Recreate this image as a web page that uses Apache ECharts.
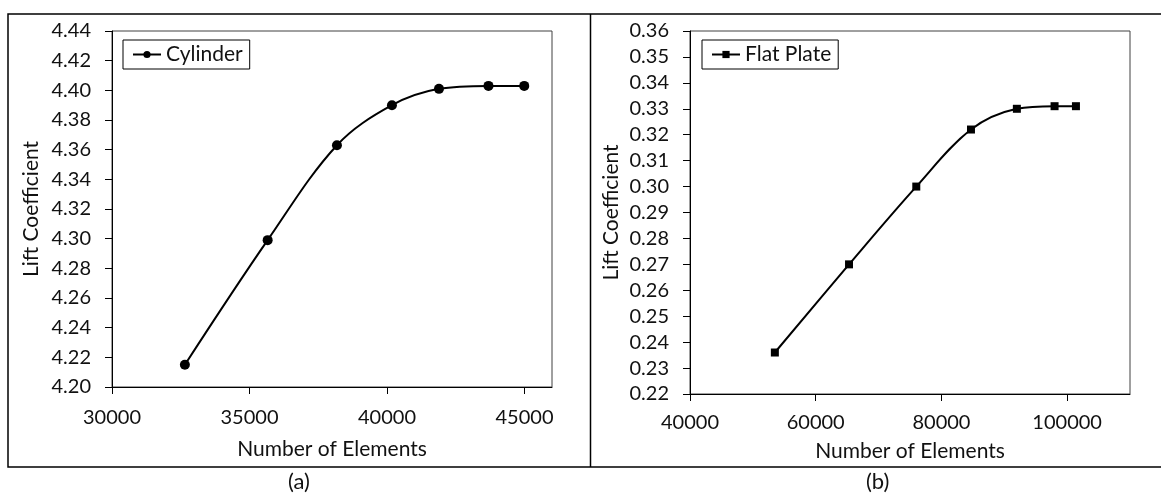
<!DOCTYPE html>
<html>
<head>
<meta charset="utf-8">
<script src="https://cdn.jsdelivr.net/npm/echarts@6/dist/echarts.min.js"></script>
<style>
  html, body { margin: 0; padding: 0; background: #fff; }
  #chart { width: 1161px; height: 495px; }
</style>
</head>
<body>
<div id="chart"></div>
<script>
// (a) cylinder mesh study
const cylElements = [32650, 35660, 38180, 40180, 41890, 43690, 44990];
const cylLift = [4.215, 4.299, 4.363, 4.390, 4.401, 4.403, 4.403];
const cylXTicks = [30000, 35000, 40000, 45000];

// (b) flat plate mesh study
const plateElements = [53500, 65300, 76000, 84700, 92000, 98000, 101400];
const plateLift = [0.236, 0.270, 0.300, 0.322, 0.330, 0.331, 0.331];
const plateXTicks = [40000, 60000, 80000, 100000];

const FONT = 'Lato';
const TXT = '#111';

const pairs = (xs, ys) => xs.map((x, i) => [x, ys[i]]);

function xAxisFor(gridIndex, min, max, interval, ticks, gap, margin) {
  return {
    type: 'value', gridIndex, min, max, interval,
    name: 'Number of Elements',
    nameLocation: 'middle', nameGap: gap,
    nameTextStyle: { fontFamily: FONT, fontSize: 21, color: TXT },
    axisLine: { lineStyle: { color: '#000', width: 1 } },
    axisTick: { show: true, inside: false, length: 7, customValues: ticks,
      lineStyle: { color: '#000' } },
    axisLabel: { customValues: ticks, margin, fontFamily: FONT, fontSize: 20, color: TXT,
      formatter: v => String(v) },
    splitLine: { show: false }
  };
}

function yAxisFor(gridIndex, min, max, interval, gap) {
  return {
    type: 'value', gridIndex, min, max, interval,
    name: 'Lift Coefficient',
    nameLocation: 'middle', nameGap: gap,
    nameTextStyle: { fontFamily: FONT, fontSize: 21, color: TXT },
    axisLine: { show: true, lineStyle: { color: '#000', width: 1 } },
    axisTick: { show: true, inside: false, length: 7, lineStyle: { color: '#000' } },
    axisLabel: { margin: 21, fontFamily: FONT, fontSize: 20, color: TXT,
      formatter: v => v.toFixed(2) },
    splitLine: { show: false }
  };
}

function legendFor(name, left) {
  return {
    data: [name], left, top: 40,
    orient: 'horizontal',
    borderColor: '#000', borderWidth: 1, borderRadius: 0,
    padding: [4, 7, 4, 9],
    itemWidth: 28, itemHeight: 9,
    textStyle: { fontFamily: FONT, fontSize: 21, color: TXT },
    selectedMode: false
  };
}

const chart = echarts.init(document.getElementById('chart'), null, { renderer: 'canvas' });

chart.setOption({
  animation: false,
  backgroundColor: '#fff',
  grid: [
    { left: 112, top: 31, width: 440, height: 356, show: true,
      borderColor: '#404040', borderWidth: 1, containLabel: false },
    { left: 690, top: 31, width: 440, height: 363, show: true,
      borderColor: '#404040', borderWidth: 1, containLabel: false }
  ],
  xAxis: [
    xAxisFor(0, 30000, 46000, 5000, cylXTicks, 52, 21),
    xAxisFor(1, 40000, 110000, 10000, plateXTicks, 47, 19)
  ],
  yAxis: [
    yAxisFor(0, 4.20, 4.44, 0.02, 70),
    yAxisFor(1, 0.22, 0.36, 0.01, 68)
  ],
  legend: [legendFor('Cylinder', 123), legendFor('Flat Plate', 702)],
  series: [
    {
      name: 'Cylinder', type: 'line', xAxisIndex: 0, yAxisIndex: 0,
      data: pairs(cylElements, cylLift),
      smooth: 0.35,
      symbol: 'circle', symbolSize: 10,
      lineStyle: { color: '#000', width: 2 },
      itemStyle: { color: '#000' }
    },
    {
      name: 'Flat Plate', type: 'line', xAxisIndex: 1, yAxisIndex: 1,
      data: pairs(plateElements, plateLift),
      smooth: 0.35,
      symbol: 'rect', symbolSize: 8,
      lineStyle: { color: '#000', width: 2 },
      itemStyle: { color: '#000' }
    }
  ],
  graphic: [
    { type: 'rect', shape: { x: 8, y: 14, width: 1170, height: 453 },
      style: { fill: null, stroke: '#000', lineWidth: 1.5 }, silent: true },
    { type: 'line', shape: { x1: 590.5, y1: 14, x2: 590.5, y2: 467 },
      style: { stroke: '#000', lineWidth: 1.5 }, silent: true },
    { type: 'text', left: 288, top: 471,
      style: { text: '(a)', fontFamily: FONT, fontSize: 22, fill: TXT } },
    { type: 'text', left: 866, top: 471,
      style: { text: '(b)', fontFamily: FONT, fontSize: 22, fill: TXT } }
  ]
});
</script>
</body>
</html>
